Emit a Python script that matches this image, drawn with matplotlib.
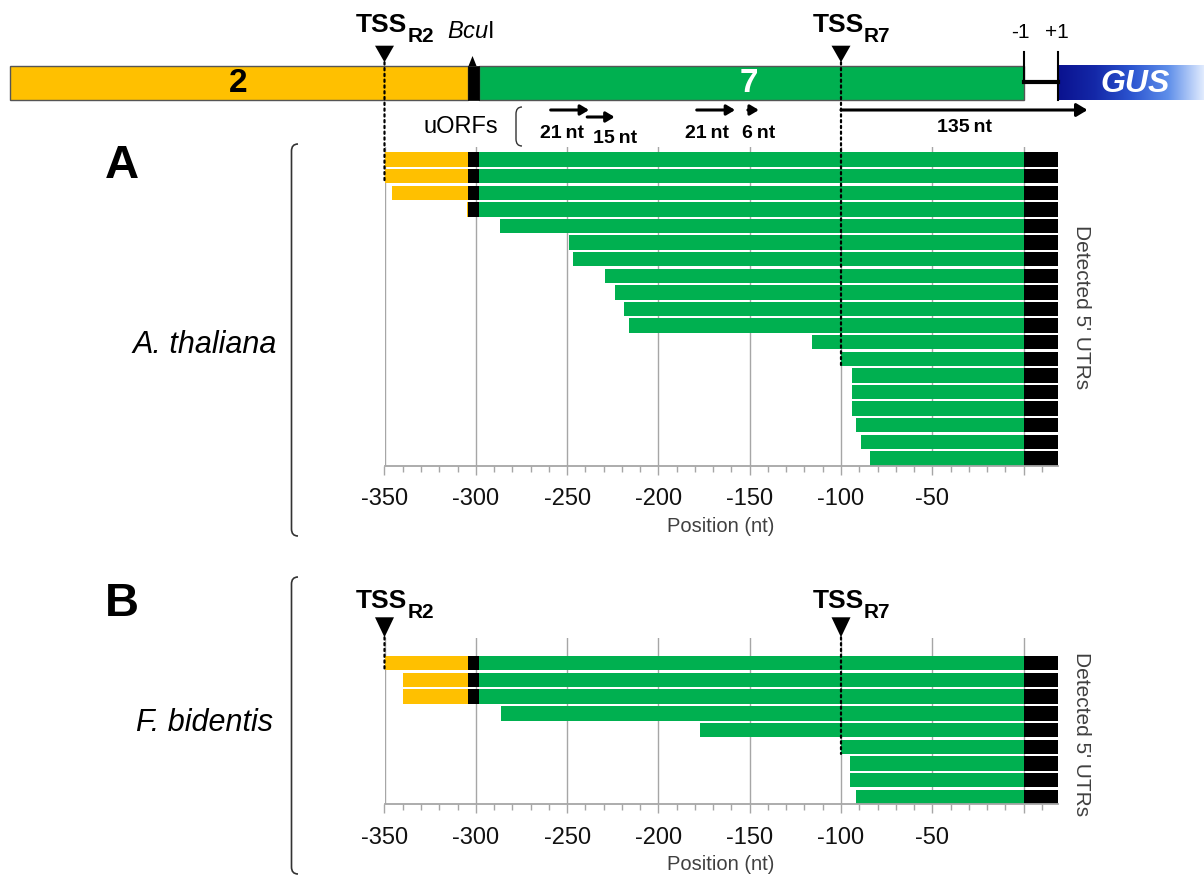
import numpy as np
import matplotlib
matplotlib.use("Agg")
import matplotlib.pyplot as plt
import matplotlib.ticker as ticker
from matplotlib.colors import LinearSegmentedColormap
from matplotlib.patches import Rectangle, Polygon, ConnectionPatch, PathPatch
from matplotlib.path import Path

plt.rcParams.update({
    "font.family": ["Liberation Sans", "DejaVu Sans"],
    "mathtext.fontset": "custom",
    "mathtext.rm": "Liberation Sans",
    "mathtext.it": "Liberation Sans:italic",
    "mathtext.bf": "Liberation Sans:bold",
    "axes.unicode_minus": False,
})

# ── data (positions in nt, relative to the GUS start codon) ─────────────
A_START = [-350, -350, -346, -305, -287, -249, -247, -229, -224, -219, -216,
           -116, -100, -94, -94, -94, -92, -89, -84]
B_START = [-350, -340, -340, -286, -177, -100, -95, -95, -92]
TSS_POS = [-350, -100]
TSS_NAME = ["R2", "R7"]
UORF_START = [-259, -239, -179, -151]
UORF_LEN = [21, 15, 21, 6]
LEADER_LEN = 135
EXON2_START = -555
BCUI = (-304, -298)
TAIL_END = 18.7
GUS_END = 99
XTICKS = [-350, -300, -250, -200, -150, -100, -50, 0]
XTICK_LABELS = ["-350", "-300", "-250", "-200", "-150", "-100", "-50", ""]

# ── style / layout ───────────────────────────────────────────────────────
YELLOW = "#FFC000"
GREEN = "#00B050"
GRID = "#a6a6a6"
TXT_GRAY = "#404040"
W, H = 1204, 879
PX0 = 384.5      # pixel of -350 nt
PPN = 1.826      # pixels per nt
X_MIN = -350
BAR_H = 0.86
GUS_CMAP = LinearSegmentedColormap.from_list(
    "gus", ["#0a128f", "#1428a8", "#2c55d0", "#5f8fea", "#e6efff"])

fig = plt.figure(figsize=(W / 100, H / 100), dpi=100)


def draw_panel(starts, top, bottom, pitch):
    right = PX0 + (TAIL_END - X_MIN) * PPN
    ax = fig.add_axes([PX0 / W, 1 - bottom / H, (right - PX0) / W, (bottom - top) / H])
    s = np.asarray(starts, dtype=float)
    rows = np.arange(len(s))
    yel_w = np.clip(BCUI[0] - s, 0, None)
    blk_left = np.maximum(s, BCUI[0])
    blk_w = np.clip(BCUI[1] - blk_left, 0, None)
    grn_left = np.maximum(s, BCUI[1])
    kw = dict(height=BAR_H, linewidth=0)
    ax.barh(rows, yel_w, left=s, color=YELLOW, **kw)
    ax.barh(rows, blk_w, left=blk_left, color="black", **kw)
    ax.barh(rows, 0 - grn_left, left=grn_left, color=GREEN, **kw)
    ax.barh(rows, TAIL_END, left=0, color="black", **kw)

    y_bot = len(s) - 1 + BAR_H / 2
    ax.set_ylim(y_bot, y_bot - (bottom - top) / pitch)
    ax.set_xlim(X_MIN, TAIL_END)
    ax.set_xticks(XTICKS)
    ax.set_xticklabels(XTICK_LABELS)
    ax.xaxis.set_minor_locator(ticker.MultipleLocator(10))
    ax.set_yticks([])
    ax.grid(axis="x", which="major", color=GRID, lw=1.0)
    ax.set_axisbelow(True)
    for sp in ("top", "right", "left"):
        ax.spines[sp].set_visible(False)
    ax.spines["bottom"].set_color(GRID)
    ax.spines["bottom"].set_linewidth(1.3)
    ax.tick_params(axis="x", which="major", length=6.5, width=1, color=GRID,
                   labelsize=17, pad=9, labelcolor="#111111")
    ax.tick_params(axis="x", which="minor", length=4.3, width=1, color=GRID)
    ax.set_xlabel("Position (nt)", fontsize=14.5, color=TXT_GRAY, labelpad=5)
    return ax


axA = draw_panel(A_START, 148, 466.5, 16.6)
axB = draw_panel(B_START, 639, 805, 16.7)

# overlay in (nt, pixel-from-top) for the gene map
ov = fig.add_axes([0, 0, 1, 1], zorder=5)
ov.axis("off")
# overlay in plain pixels for panel decorations
pxa = fig.add_axes([0, 0, 1, 1], zorder=4)
pxa.axis("off")
pxa.set_xlim(0, W)
pxa.set_ylim(H, 0)

# ── gene map ─────────────────────────────────────────────────────────────
ov.add_patch(Rectangle((EXON2_START, 66.7), BCUI[0] - EXON2_START, 34.3,
                       fc=YELLOW, ec="#555555", lw=1))
ov.add_patch(Rectangle((BCUI[1], 66.7), 0 - BCUI[1], 34.3,
                       fc=GREEN, ec="#555555", lw=1))
ov.add_patch(Rectangle((BCUI[0], 66.7), BCUI[1] - BCUI[0], 34.3, fc="black", ec="black", lw=0.5))
ov.add_patch(Polygon([(BCUI[0], 67), (BCUI[0] + 2.2, 57), (BCUI[0] + 4.4, 67)], fc="black"))
ov.text(-430, 84, "2", ha="center", va="center", fontsize=24, fontweight="bold")
ov.text(-150.5, 84, "7", ha="center", va="center", fontsize=24, fontweight="bold", color="white")
ov.text(-316, 38, r"$\mathit{Bcu}\mathrm{I}$", ha="left", va="baseline", fontsize=17)

# -1 / +1 junction and GUS
ov.plot([0, 0], [53, 83], color="black", lw=1.5)
ov.plot([0, TAIL_END], [83, 83], color="black", lw=3)
ov.plot([TAIL_END, TAIL_END], [53, 101], color="black", lw=1.5)
ov.imshow(np.linspace(0, 1, 256).reshape(1, -1), extent=[TAIL_END, GUS_END, 101, 66.7],
          aspect="auto", cmap=GUS_CMAP, zorder=1)
ov.text(61, 84, "GUS", ha="center", va="center", fontsize=23, fontweight="bold",
        fontstyle="italic", color="white")
ov.text(-1.5, 38, "-1", ha="center", va="baseline", fontsize=15)
ov.text(TAIL_END - 0.5, 38, "+1", ha="center", va="baseline", fontsize=15)

ov.set_xlim(X_MIN - PX0 / PPN, X_MIN + (W - PX0) / PPN)
ov.set_ylim(H, 0)

# uORFs
ov.text(-328.4, 127, "uORFs", ha="left", va="center", fontsize=17)
pxa.add_patch(PathPatch(Path([(522, 108), (516, 108), (516, 115), (516, 140), (516, 147), (522, 147)],
                             [Path.MOVETO, Path.CURVE3, Path.CURVE3, Path.LINETO, Path.CURVE3, Path.CURVE3]),
                        fc="none", ec="#333333", lw=1))
UORF_Y = [111, 118, 111, 111]
LBL_DX = [-4.5, 7.5, -5, 3]
LBL_Y = [133, 138.5, 133, 133]
arrow_kw = dict(arrowstyle="-|>,head_length=0.5,head_width=0.3", mutation_scale=10,
                lw=2.2, color="black", shrinkA=0, shrinkB=0)
for st, ln, y, dx, ly in zip(UORF_START, UORF_LEN, UORF_Y, LBL_DX, LBL_Y):
    ov.annotate("", xy=(st + ln, y), xytext=(st, y), arrowprops=arrow_kw)
    ov.text(st + ln / 2 + dx, ly, f"{ln}\u2009nt", ha="center", va="center",
            fontsize=14, fontweight="bold")
ov.annotate("", xy=(TSS_POS[1] + LEADER_LEN, 111), xytext=(TSS_POS[1], 111),
            arrowprops=dict(arrow_kw, mutation_scale=13))
ov.text(TSS_POS[1] + LEADER_LEN / 2, 127, f"{LEADER_LEN}\u2009nt", ha="center", va="center",
        fontsize=14, fontweight="bold")


# ── TSS markers + dotted guides ──────────────────────────────────────────
def tss_marker(tss, name, base, tri_top, tri_tip, ax, starts):
    ov.text(tss + 12.5, base, "TSS", ha="right", va="baseline", fontsize=19, fontweight="bold")
    ov.text(tss + 12.5, base + 10.5, name, ha="left", va="baseline", fontsize=15, fontweight="bold")
    ov.add_patch(Polygon([(tss - 5.2, tri_top), (tss + 5.2, tri_top), (tss, tri_tip)], fc="black"))
    last = max(i for i, s in enumerate(starts) if s <= tss)
    con = ConnectionPatch(xyA=(tss, tri_tip), coordsA=ov.transData,
                          xyB=(tss, last + BAR_H / 2), coordsB=ax.transData,
                          ls=(0, (1, 1.6)), lw=1.6, color="black", zorder=10)
    fig.add_artist(con)


for tss, name in zip(TSS_POS, TSS_NAME):
    tss_marker(tss, name, 32, 46.7, 63.3, axA, A_START)
    tss_marker(tss, name, 608, 618.3, 638.3, axB, B_START)

# ── panel decorations ────────────────────────────────────────────────────
def bracket(y0, y1, x=291.5, hook=6.5):
    verts = [(x + hook, y0), (x, y0), (x, y0 + 7), (x, y1 - 7), (x, y1), (x + hook, y1)]
    codes = [Path.MOVETO, Path.CURVE3, Path.CURVE3, Path.LINETO, Path.CURVE3, Path.CURVE3]
    pxa.add_patch(PathPatch(Path(verts, codes), fc="none", ec="#333333", lw=1.2))


bracket(145, 537)
bracket(578, 875)
pxa.text(122, 166, "A", ha="center", va="center", fontsize=34, fontweight="bold")
pxa.text(122, 604, "B", ha="center", va="center", fontsize=34, fontweight="bold")
pxa.text(277, 345, "A. thaliana", ha="right", va="center", fontsize=22, fontstyle="italic")
pxa.text(273, 723, "F. bidentis", ha="right", va="center", fontsize=22, fontstyle="italic")
pxa.text(1082, 307, "Detected 5' UTRs", ha="center", va="center", rotation=270,
         fontsize=15, color=TXT_GRAY)
pxa.text(1082, 734, "Detected 5' UTRs", ha="center", va="center", rotation=270,
         fontsize=15, color=TXT_GRAY)

fig.savefig("out.png", dpi=100)
